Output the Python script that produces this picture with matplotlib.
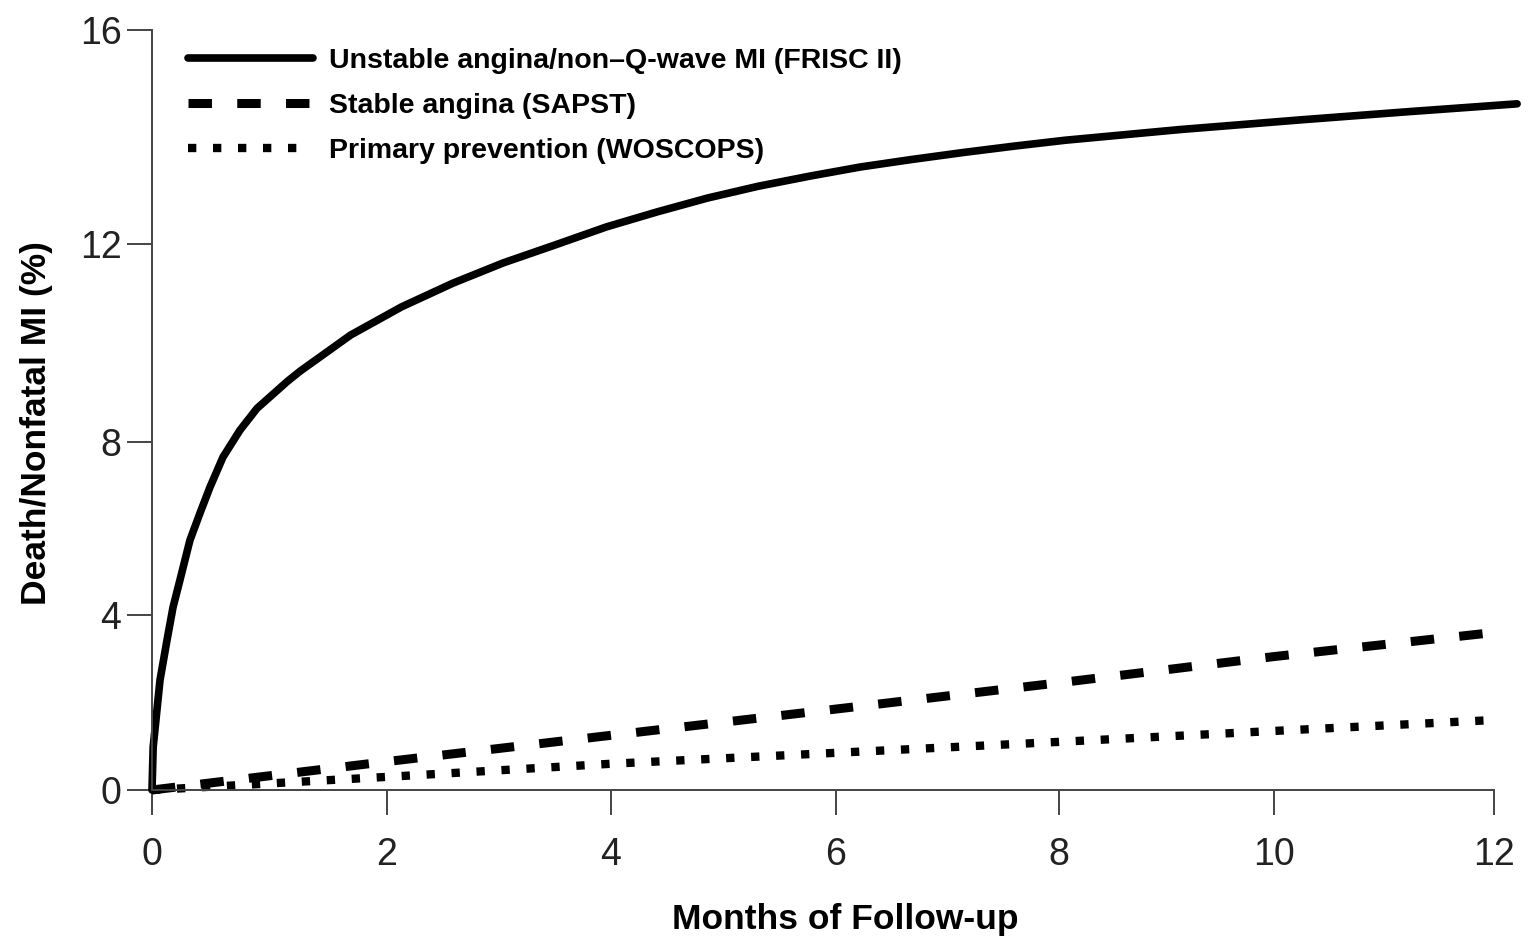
import numpy as np
import matplotlib
matplotlib.use("Agg")
import matplotlib.pyplot as plt

plt.rcParams['font.family'] = ['Liberation Sans', 'DejaVu Sans']

# data (months, %)
frisc_months = [0, 0.01, 0.068, 0.128, 0.179, 0.238, 0.323, 0.409, 0.494, 0.604,
                0.749, 0.894, 1.15, 1.26, 1.69, 2.13, 2.59, 3.04, 3.5, 3.96,
                4.41, 4.86, 5.31, 5.77, 6.22, 6.68, 7.14, 7.60, 8.06, 9.13,
                10.24, 11.2, 12.21]
frisc_rate = [0, 0.98, 2.51, 3.43, 4.18, 4.81, 5.73, 6.36, 6.96, 7.65,
              8.24, 8.68, 9.22, 9.43, 10.16, 10.73, 11.21, 11.62, 11.98, 12.32,
              12.60, 12.86, 13.08, 13.27, 13.44, 13.58, 13.71, 13.83, 13.94, 14.14,
              14.32, 14.47, 14.62]

sapst_months = [0, 2, 4, 6, 8, 10, 12]
sapst_rate = [0, 0.65, 1.25, 1.85, 2.45, 3.05, 3.6]

woscops_months = [0, 2, 4, 6, 8, 10, 12]
woscops_rate = [0, 0.3, 0.6, 0.85, 1.1, 1.35, 1.6]

labels = ["Unstable angina/non\u2013Q-wave MI (FRISC II)",
          "Stable angina (SAPST)",
          "Primary prevention (WOSCOPS)"]
x_ticks = [0, 2, 4, 6, 8, 10, 12]
y_ticks = [0, 4, 8, 12, 16]

# the scanned axes are not evenly spaced, so map ticks piecewise
x_pos = [0, 235, 459, 684, 907, 1122, 1342]
y_pos = [0, 175, 348, 546, 760]


def piecewise(xp, fp):
    xp = np.asarray(xp, float)
    fp = np.asarray(fp, float)

    def f(v):
        v = np.asarray(v, float)
        out = np.interp(v, xp, fp)
        lo_slope = (fp[1] - fp[0]) / (xp[1] - xp[0])
        hi_slope = (fp[-1] - fp[-2]) / (xp[-1] - xp[-2])
        out = np.where(v < xp[0], fp[0] + (v - xp[0]) * lo_slope, out)
        out = np.where(v > xp[-1], fp[-1] + (v - xp[-1]) * hi_slope, out)
        return out
    return f


fig = plt.figure(figsize=(15.4, 9.39), dpi=100)
ax = fig.add_axes([152 / 1540, 149 / 939, 1342 / 1540, 760 / 939])

ax.set_xscale('function', functions=(piecewise(x_ticks, x_pos), piecewise(x_pos, x_ticks)))
ax.set_yscale('function', functions=(piecewise(y_ticks, y_pos), piecewise(y_pos, y_ticks)))

ax.plot(frisc_months, frisc_rate, color='black', lw=5.5, solid_capstyle='round',
        solid_joinstyle='round', clip_on=False, label=labels[0])
ax.plot(sapst_months, sapst_rate, color='black', lw=6.5, linestyle=(0, (2.6, 2.8)),
        dash_capstyle='butt', clip_on=False, label=labels[1])
ax.plot(woscops_months, woscops_rate, color='black', lw=6, linestyle=(0, (1, 2)),
        dash_capstyle='butt', clip_on=False, label=labels[2])

ax.set_xlim(0, 12)
ax.set_ylim(0, 16)
ax.set_xticks(x_ticks)
ax.set_yticks(y_ticks)
ax.set_xticklabels([str(t) for t in x_ticks])
ax.set_yticklabels([str(t) for t in y_ticks])
ax.xaxis.set_minor_locator(matplotlib.ticker.NullLocator())
ax.yaxis.set_minor_locator(matplotlib.ticker.NullLocator())

for side in ['top', 'right']:
    ax.spines[side].set_visible(False)
for side in ['left', 'bottom']:
    ax.spines[side].set_linewidth(1.4)
    ax.spines[side].set_color('#444444')

ax.tick_params(axis='both', direction='out', length=18, width=1.4, color='#444444',
               labelsize=27, labelcolor='#222222')
ax.tick_params(axis='y', pad=4)
ax.tick_params(axis='x', pad=15.5)

ax.set_xlabel("Months of Follow-up", fontsize=25.5, fontweight='bold')
ax.set_ylabel("Death/Nonfatal MI (%)", fontsize=25.5, fontweight='bold')
ax.xaxis.set_label_coords(693 / 1342, -113 / 760)
ax.yaxis.set_label_coords(-99 / 1342, 367 / 760)

ax.legend(loc='upper left', bbox_to_anchor=(36 / 1342, 1 - 18 / 760),
          frameon=False, handlelength=4.4, handletextpad=0.55,
          labelspacing=0.66, borderpad=0, borderaxespad=0,
          prop={'weight': 'bold', 'size': 20.5})

fig.savefig("out.png", dpi=100)
